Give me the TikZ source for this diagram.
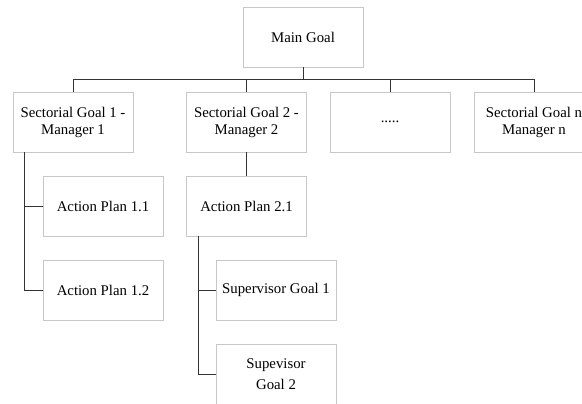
\documentclass[tikz,border=0pt]{standalone}
\usepackage{fontspec}
\setmainfont{Liberation Serif}
\begin{document}
\begin{tikzpicture}[x=1bp,y=-1bp,
  box/.style={draw=black!22, line width=0.8bp, fill=white, minimum width=120bp, minimum height=60bp,
    inner sep=0pt, align=center, font=\fontsize{14.8bp}{17bp}\selectfont},
  conn/.style={draw=black!80, line width=0.9bp}]
\useasboundingbox (0,0) rectangle (582,403);
\clip (0,0) rectangle (582,403);
\fill[white] (0,0) rectangle (582,403);
\node[box] (main) at (303,37) {Main Goal};
\node[box] (s1) at (73,122) {Sectorial Goal 1 -\\Manager 1};
\node[box] (s2) at (246.5,122) {Sectorial Goal 2 -\\Manager 2};
\node[box] (s3) at (390,122) {.....};
\node[box] (s4) at (534,122) {Sectorial Goal n\\Manager n};
\node[box] (a11) at (103,206) {Action Plan 1.1};
\node[box] (a12) at (103,290) {Action Plan 1.2};
\node[box] (a21) at (246.5,206) {Action Plan 2.1};
\node[box] (g1) at (276,290) {Supervisor Goal 1};
\node[box] (g2) at (276,374) {Supevisor\\[4bp]Goal 2};
\coordinate (bus) at (303,79.5);
\coordinate (l1) at ([xshift=12bp]s1.south west);
\coordinate (l2) at ([xshift=12bp]a21.south west);
\draw[conn] (main.south) -- (main.south |- bus);
\draw[conn] (s1.north) -- (s1.north |- bus) -- (s4.north |- bus) -- (s4.north);
\draw[conn] (s2.north) -- (s2.north |- bus);
\draw[conn] (s3.north) -- (s3.north |- bus);
\draw[conn] (s2.south) -- (a21.north);
\draw[conn] (l1) |- (a12.west);
\draw[conn] (l1 |- a11.west) -- (a11.west);
\draw[conn] (l2) |- (g2.west);
\draw[conn] (l2 |- g1.west) -- (g1.west);
\end{tikzpicture}
\end{document}
